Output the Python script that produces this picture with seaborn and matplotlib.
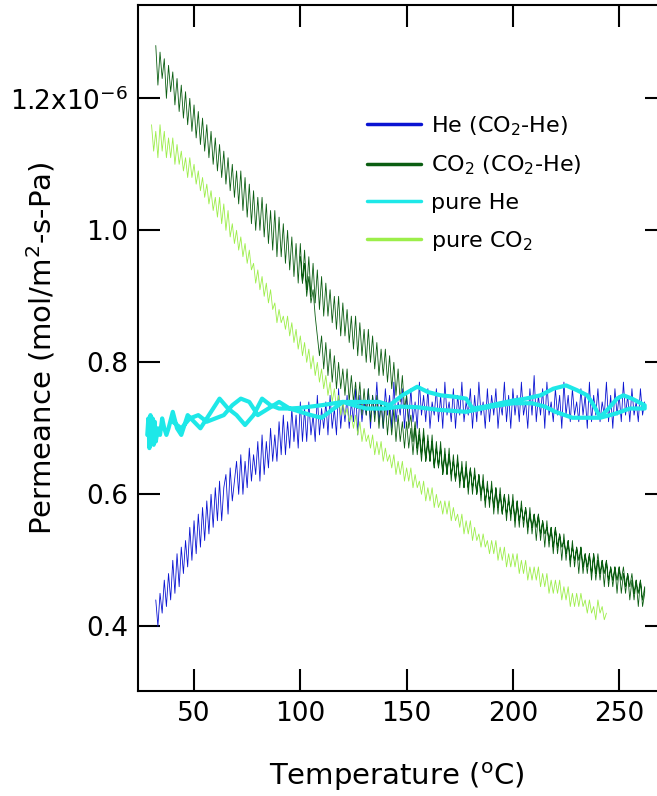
import numpy as np
import pandas as pd
import matplotlib
matplotlib.use("Agg")
import matplotlib.pyplot as plt
import seaborn as sns

# ---------------- data ----------------
# He permeance measured in the CO2-He mixture, T = 32..262 degC, 1 degC steps
he_mix_T_start, he_mix_T_step = 32, 1.0
he_mix = [
    .44, .40, .45, .42, .47, .43, .48, .44, .50, .45,
    .51, .46, .52, .48, .53, .49, .55, .50, .56, .51,
    .57, .52, .58, .53, .59, .54, .60, .55, .61, .56,
    .62, .56, .61, .63, .57, .64, .59, .62, .65, .60,
    .66, .60, .65, .61, .67, .62, .66, .63, .68, .62,
    .69, .63, .68, .64, .70, .65, .69, .65, .71, .66,
    .72, .66, .71, .67, .73, .68, .72, .67, .74, .68,
    .73, .68, .74, .69, .72, .68, .75, .69, .73, .70,
    .74, .69, .75, .70, .73, .69, .76, .70, .74, .71,
    .75, .70, .74, .71, .76, .69, .75, .71, .74, .72,
    .76, .70, .75, .72, .77, .71, .74, .70, .76, .72,
    .75, .70, .77, .71, .74, .72, .76, .70, .75, .71,
    .76, .71, .74, .70, .77, .72, .75, .71, .76, .70,
    .74, .72, .76, .71, .75, .70, .77, .72, .74, .71,
    .76, .70, .75, .72, .77, .71, .74, .72, .76, .70,
    .75, .71, .77, .72, .74, .70, .76, .71, .75, .72,
    .76, .70, .74, .72, .77, .71, .75, .70, .76, .72,
    .75, .71, .77, .72, .74, .70, .76, .72, .78, .71,
    .75, .72, .76, .70, .77, .72, .74, .71, .76, .72,
    .75, .70, .77, .72, .75, .71, .76, .72, .74, .71,
    .76, .72, .75, .70, .77, .71, .75, .72, .76, .71,
    .74, .72, .77, .71, .75, .70, .76, .72, .75, .71,
    .77, .72, .75, .71, .76, .72, .74, .71, .76, .72,
    .74,
]

# CO2 permeance in the CO2-He mixture: heating run T = 32..262, then cooling run T = 262..100
co2_mix_heat_T_start, co2_mix_heat_T_step = 32, 1.0
co2_mix_heat = [
    1.28, 1.22, 1.27, 1.23, 1.26, 1.20, 1.25, 1.21, 1.24, 1.19,
    1.23, 1.18, 1.22, 1.17, 1.21, 1.16, 1.20, 1.15, 1.19, 1.14,
    1.18, 1.13, 1.17, 1.12, 1.16, 1.11, 1.15, 1.10, 1.14, 1.09,
    1.13, 1.08, 1.12, 1.07, 1.11, 1.06, 1.10, 1.05, 1.09, 1.04,
    1.09, 1.03, 1.08, 1.02, 1.07, 1.01, 1.06, 1.00, 1.05, 1.00,
    1.05, 0.99, 1.04, 0.98, 1.03, 0.97, 1.03, 0.96, 1.02, 0.96,
    1.01, 0.95, 1.00, 0.94, 0.99, 0.93, 0.98, 0.92, 0.98, 0.92,
    0.97, 0.91, 0.96, 0.90, 0.95, 0.89, 0.94, 0.88, 0.93, 0.87,
    0.92, 0.87, 0.91, 0.86, 0.90, 0.85, 0.90, 0.84, 0.89, 0.84,
    0.88, 0.83, 0.87, 0.82, 0.87, 0.81, 0.86, 0.81, 0.85, 0.80,
    0.85, 0.80, 0.84, 0.79, 0.83, 0.78, 0.82, 0.78, 0.82, 0.77,
    0.81, 0.76, 0.80, 0.75, 0.79, 0.74, 0.78, 0.73, 0.75, 0.70,
    0.72, 0.68, 0.71, 0.67, 0.70, 0.66, 0.70, 0.65, 0.69, 0.65,
    0.69, 0.64, 0.68, 0.64, 0.68, 0.63, 0.67, 0.63, 0.67, 0.62,
    0.66, 0.62, 0.66, 0.61, 0.65, 0.61, 0.65, 0.60, 0.64, 0.60,
    0.64, 0.60, 0.63, 0.59, 0.63, 0.58, 0.62, 0.58, 0.62, 0.57,
    0.61, 0.57, 0.61, 0.57, 0.60, 0.56, 0.60, 0.56, 0.60, 0.55,
    0.59, 0.55, 0.59, 0.55, 0.58, 0.54, 0.58, 0.54, 0.57, 0.53,
    0.57, 0.53, 0.56, 0.52, 0.56, 0.52, 0.55, 0.51, 0.55, 0.51,
    0.54, 0.50, 0.54, 0.50, 0.53, 0.49, 0.53, 0.49, 0.52, 0.48,
    0.52, 0.48, 0.51, 0.48, 0.51, 0.47, 0.51, 0.47, 0.50, 0.47,
    0.50, 0.46, 0.50, 0.46, 0.49, 0.46, 0.49, 0.45, 0.49, 0.45,
    0.48, 0.45, 0.48, 0.44, 0.47, 0.44, 0.47, 0.43, 0.47, 0.43,
    0.45,
]
# cooling run listed in ascending temperature, T = 100..262
co2_mix_cool_T_start, co2_mix_cool_T_step = 100, 1.0
co2_mix_cool = [
    0.96, 0.92, 0.95, 0.90, 0.93, 0.89, 0.91, 0.87, 0.84, 0.81,
    0.84, 0.79, 0.83, 0.78, 0.82, 0.77, 0.81, 0.76, 0.80, 0.76,
    0.79, 0.75, 0.79, 0.74, 0.78, 0.74, 0.77, 0.73, 0.77, 0.72,
    0.76, 0.72, 0.76, 0.71, 0.75, 0.71, 0.75, 0.70, 0.74, 0.70,
    0.74, 0.69, 0.73, 0.69, 0.73, 0.68, 0.72, 0.68, 0.71, 0.67,
    0.71, 0.67, 0.70, 0.66, 0.70, 0.66, 0.69, 0.65, 0.69, 0.65,
    0.68, 0.65, 0.68, 0.64, 0.67, 0.64, 0.67, 0.63, 0.66, 0.63,
    0.66, 0.63, 0.65, 0.62, 0.65, 0.62, 0.64, 0.61, 0.64, 0.61,
    0.64, 0.61, 0.63, 0.60, 0.63, 0.60, 0.62, 0.59, 0.61, 0.59,
    0.61, 0.58, 0.61, 0.58, 0.60, 0.57, 0.60, 0.57, 0.59, 0.57,
    0.59, 0.56, 0.59, 0.56, 0.58, 0.56, 0.58, 0.55, 0.57, 0.55,
    0.57, 0.55, 0.57, 0.54, 0.56, 0.54, 0.55, 0.53, 0.55, 0.52,
    0.55, 0.52, 0.54, 0.52, 0.53, 0.51, 0.53, 0.50, 0.52, 0.50,
    0.52, 0.50, 0.52, 0.49, 0.51, 0.49, 0.51, 0.48, 0.51, 0.48,
    0.51, 0.48, 0.50, 0.48, 0.50, 0.47, 0.49, 0.47, 0.49, 0.47,
    0.49, 0.47, 0.49, 0.46, 0.48, 0.46, 0.48, 0.45, 0.47, 0.45,
    0.47, 0.44, 0.46,
]

# pure He: heating then cooling run (temperature, permeance)
pure_he_heat_T = [28, 28.5, 29, 29.5, 30, 30.5, 31, 31.5, 32, 33, 34, 35, 36, 37, 38,
                  40, 42, 44, 47, 50, 53, 57, 62, 66, 70, 74, 78, 82, 86, 90, 95, 100,
                  110, 120, 130, 137, 142, 148, 155, 160, 166, 172, 178, 181, 187, 194,
                  200, 206, 213, 219, 225, 230, 235, 238, 241, 245, 249, 252, 256, 262]
pure_he_heat = [0.69, 0.715, 0.67, 0.72, 0.68, 0.715, 0.675, 0.71, 0.68, 0.70, 0.69, 0.715,
                0.70, 0.69, 0.70, 0.725, 0.70, 0.69, 0.72, 0.71, 0.70, 0.72, 0.745, 0.73,
                0.72, 0.705, 0.72, 0.745, 0.735, 0.73, 0.73, 0.731, 0.735, 0.74, 0.74,
                0.74, 0.735, 0.75, 0.763, 0.755, 0.75, 0.748, 0.745, 0.73, 0.733, 0.738,
                0.742, 0.745, 0.75, 0.76, 0.765, 0.758, 0.75, 0.735, 0.717, 0.73, 0.745,
                0.75, 0.745, 0.735]
pure_he_cool_T = [262, 255, 248, 241, 234, 228, 220, 215, 209, 200, 190, 178, 165, 155,
                  147, 140, 131, 125, 120, 115, 110, 105, 100, 95, 90, 85, 80, 76, 72,
                  68, 64, 60, 56, 52, 48, 44, 40]
pure_he_cool = [0.73, 0.73, 0.722, 0.716, 0.716, 0.716, 0.725, 0.733, 0.738, 0.738,
                0.733, 0.725, 0.728, 0.732, 0.733, 0.73, 0.73, 0.735, 0.74, 0.728,
                0.716, 0.72, 0.725, 0.73, 0.74, 0.73, 0.72, 0.74, 0.745, 0.735, 0.72,
                0.715, 0.71, 0.72, 0.715, 0.70, 0.71]

# pure CO2, T = 30..244
pure_co2_T_start, pure_co2_T_step = 30, 1.0
pure_co2 = [
    1.16, 1.12, 1.15, 1.11, 1.16, 1.12, 1.15, 1.11, 1.14, 1.11,
    1.14, 1.10, 1.13, 1.10, 1.12, 1.09, 1.11, 1.08, 1.11, 1.08,
    1.10, 1.07, 1.09, 1.06, 1.08, 1.05, 1.07, 1.04, 1.06, 1.03,
    1.05, 1.02, 1.05, 1.01, 1.04, 1.00, 1.03, 0.99, 1.01, 0.98,
    1.00, 0.97, 0.99, 0.96, 0.98, 0.95, 0.97, 0.94, 0.95, 0.92,
    0.94, 0.91, 0.93, 0.90, 0.92, 0.89, 0.91, 0.88, 0.89, 0.86,
    0.88, 0.86, 0.87, 0.85, 0.87, 0.84, 0.86, 0.83, 0.85, 0.82,
    0.84, 0.81, 0.83, 0.80, 0.82, 0.79, 0.81, 0.78, 0.80, 0.77,
    0.79, 0.76, 0.78, 0.75, 0.77, 0.74, 0.76, 0.73, 0.75, 0.72,
    0.74, 0.72, 0.73, 0.71, 0.72, 0.70, 0.72, 0.69, 0.71, 0.68,
    0.70, 0.68, 0.69, 0.67, 0.69, 0.66, 0.68, 0.66, 0.68, 0.65,
    0.67, 0.65, 0.66, 0.64, 0.66, 0.63, 0.65, 0.63, 0.65, 0.62,
    0.64, 0.62, 0.64, 0.61, 0.63, 0.61, 0.62, 0.60, 0.62, 0.59,
    0.61, 0.59, 0.61, 0.58, 0.60, 0.58, 0.59, 0.57, 0.59, 0.57,
    0.59, 0.56, 0.58, 0.56, 0.57, 0.55, 0.57, 0.54, 0.56, 0.54,
    0.56, 0.53, 0.55, 0.53, 0.54, 0.52, 0.54, 0.52, 0.53, 0.51,
    0.53, 0.51, 0.53, 0.50, 0.52, 0.50, 0.52, 0.49, 0.51, 0.49,
    0.51, 0.49, 0.51, 0.48, 0.50, 0.48, 0.50, 0.47, 0.49, 0.47,
    0.49, 0.47, 0.49, 0.46, 0.48, 0.46, 0.48, 0.45, 0.47, 0.45,
    0.47, 0.45, 0.47, 0.44, 0.46, 0.44, 0.46, 0.43, 0.45, 0.43,
    0.45, 0.43, 0.45, 0.43, 0.44, 0.42, 0.44, 0.42, 0.43, 0.41,
    0.44, 0.42, 0.43, 0.41, 0.42,
]

series_labels = ["He (CO$_2$-He)", "CO$_2$ (CO$_2$-He)", "pure He", "pure CO$_2$"]
series_colors = ["#0a14d2", "#0b5e12", "#1ee8e8", "#9cee4a"]
x_ticks = [50, 100, 150, 200, 250]
y_ticks = [0.4, 0.6, 0.8, 1.0, 1.2]
y_tick_labels = ["0.4", "0.6", "0.8", "1.0", "1.2x10$^{-6}$"]

# ---------------- build frames ----------------
def grid(start, step, n):
    return start + step * np.arange(n)

df_he_mix = pd.DataFrame({"T": grid(he_mix_T_start, he_mix_T_step, len(he_mix)), "P": he_mix})
T_heat = grid(co2_mix_heat_T_start, co2_mix_heat_T_step, len(co2_mix_heat))
T_cool = grid(co2_mix_cool_T_start, co2_mix_cool_T_step, len(co2_mix_cool))
df_co2_mix = pd.DataFrame({"T": np.concatenate([T_heat, T_cool[::-1]]),
                           "P": np.concatenate([co2_mix_heat, co2_mix_cool[::-1]])})
df_pure_he = pd.DataFrame({"T": pure_he_heat_T + pure_he_cool_T, "P": pure_he_heat + pure_he_cool})
df_pure_co2 = pd.DataFrame({"T": grid(pure_co2_T_start, pure_co2_T_step, len(pure_co2)), "P": pure_co2})

# ---------------- plotting ----------------
sns.set_style("ticks")
plt.rcParams["font.family"] = ["DejaVu Sans"]
plt.rcParams["mathtext.fontset"] = "dejavusans"
plt.rcParams["text.color"] = "black"
plt.rcParams["axes.labelcolor"] = "black"
plt.rcParams["xtick.color"] = "black"
plt.rcParams["ytick.color"] = "black"

fig = plt.figure(figsize=(6.57, 7.96), dpi=100)
ax = fig.add_axes([137.5 / 657, 105 / 796, (667 - 137.5) / 657, (691 - 5) / 796])

frames = [df_he_mix, df_co2_mix, df_pure_he, df_pure_co2]
widths = [0.6, 0.6, 3.0, 0.6]
order = [0, 1, 3, 2]
for i in order:
    sns.lineplot(data=frames[i], x="T", y="P", sort=False, estimator=None,
                 color=series_colors[i], lw=widths[i], ax=ax, legend=False)

ax.set_xlim(23.4, 272.5)
ax.set_ylim(0.302, 1.3414)
ax.set_xticks(x_ticks)
ax.set_xticklabels([str(t) for t in x_ticks])
ax.set_yticks(y_ticks)
ax.set_yticklabels(y_tick_labels)
ax.tick_params(axis="both", which="major", direction="in", length=16, width=1.5,
               labelsize=19, top=True, right=True, pad=7, color="black",
               labelcolor="black")
for s in ax.spines.values():
    s.set_linewidth(1.5)
    s.set_color("black")

ax.set_xlabel("Temperature ($^{\\mathrm{o}}$C)", fontsize=21)
ax.xaxis.set_label_coords((397 - 137.5) / 529.5, -(777 - 691) / 686, transform=ax.transAxes)
ax.xaxis.label.set_verticalalignment("center")
ax.set_ylabel("Permeance (mol/m$^{2}$-s-Pa)", fontsize=21)
ax.yaxis.set_label_coords(-(137.5 - 41) / 529.5, 0.5, transform=ax.transAxes)
ax.yaxis.label.set_verticalalignment("center")

from matplotlib.lines import Line2D
handles = [Line2D([], [], color=c, lw=2.5) for c in series_colors]
fig.legend(handles, series_labels, loc="upper left",
           bbox_to_anchor=(367 / 657, 1 - 114 / 796), frameon=False,
           fontsize=16, handlelength=2.45, handletextpad=0.45, labelspacing=0.72,
           borderpad=0, borderaxespad=0)

fig.savefig("out.png", dpi=100)
